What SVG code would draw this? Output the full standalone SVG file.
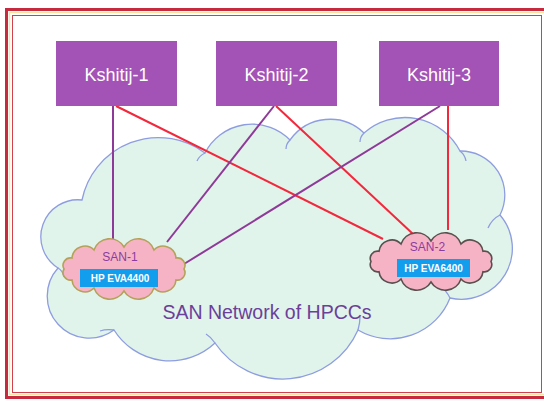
<svg xmlns="http://www.w3.org/2000/svg" width="544" height="402" viewBox="0 0 544 402">
<style>
.box{fill:#a352b5;}
.ktxt{font-family:"Liberation Sans",Arial,sans-serif;font-size:18px;fill:#ffffff;text-anchor:middle;}
.pl{stroke:#8e3a98;stroke-width:2;fill:none;}
.rl{stroke:#f2283c;stroke-width:2;fill:none;}
.san{fill:#f7b3c6;stroke-width:1.6;}
.santxt{font-family:"Liberation Sans",Arial,sans-serif;font-size:12px;fill:#8a3d9e;text-anchor:middle;}
.hp{fill:#139ded;}
.hptxt{font-family:"Liberation Sans",Arial,sans-serif;font-size:10px;font-weight:bold;fill:#ffffff;text-anchor:middle;}
.cl{fill:none;stroke:#8e9de0;stroke-width:1.3;}
</style>
<rect x="0" y="0" width="544" height="402" fill="#ffffff"/>
<g id="frame">
<rect x="6.5" y="9.5" width="560" height="388" fill="none" stroke="#c62a3e" stroke-width="3"/>
<rect x="9.5" y="12.5" width="560" height="382" fill="none" stroke="#f3e6a6" stroke-width="1.5"/>
<rect x="12.5" y="15.5" width="529" height="377" fill="none" stroke="#d0404e" stroke-width="1"/>
</g>
<g id="network-cloud">
<path d="M58 268 A37 37 0 0 1 82 200 A78 78 0 0 1 205 153 A53 53 0 0 1 290 140 A49 49 0 0 1 364 133 A62 62 0 0 1 460 151 A44 44 0 0 1 500 215 A51 51 0 0 1 450 298 A64 64 0 0 1 358 330 A82 82 0 0 1 215 343 A66 66 0 0 1 114 330 A42 42 0 0 1 58 268 Z" fill="#e1f4eb" stroke="#8e9de0" stroke-width="1.3"/>
<path class="cl" d="M58 268 Q63 271 64 277 M205 153 Q199 156 197 161 M290 140 Q286 144 286 149 M364 133 Q360 137 360 142 M460 151 Q465 155 466 161 M500 215 Q492 219 488 228 M450 298 Q446 290 440 286 M358 330 Q360 323 360 317 M215 343 Q211 337 206 334 M114 330 Q106 329 100 331"/>
<text x="267" y="319" font-family="Liberation Sans, Arial, sans-serif" font-size="19.5" fill="#6b3f9a" text-anchor="middle">SAN Network of HPCCs</text>
</g>
<g id="connectors">
<line class="pl" x1="113" y1="106" x2="113" y2="242"/>
<line class="rl" x1="116" y1="106" x2="383" y2="239"/>
<line class="pl" x1="274" y1="106" x2="167" y2="242"/>
<line class="rl" x1="276" y1="106" x2="413" y2="234"/>
<line class="pl" x1="440" y1="106" x2="184" y2="264"/>
<line class="rl" x1="448" y1="106" x2="448" y2="230"/>
</g>
<g id="san1">
<path class="san" stroke="#b5a25a" d="M64 269 A7.5 7.5 0 0 1 72 258 A12.9 12.9 0 0 1 94 250 A16.6 16.6 0 0 1 124 247 A16.6 16.6 0 0 1 154 250 A12.9 12.9 0 0 1 176 258 A7.5 7.5 0 0 1 184 269 A7.5 7.5 0 0 1 176 280 A12.9 12.9 0 0 1 154 288 A16.6 16.6 0 0 1 124 291 A16.6 16.6 0 0 1 94 288 A12.9 12.9 0 0 1 72 280 A7.5 7.5 0 0 1 64 269 Z"/>
<text class="santxt" x="120" y="261">SAN-1</text>
<rect class="hp" x="80" y="269" width="78" height="18"/>
<text class="hptxt" x="120" y="281.5">HP EVA4400</text>
</g>
<g id="san2">
<path class="san" stroke="#5a5050" d="M371 261.5 A7.2 7.2 0 0 1 379 251.3 A12.8 12.8 0 0 1 401 244 A16.6 16.6 0 0 1 431 241 A16.6 16.6 0 0 1 461 244 A12.8 12.8 0 0 1 483 251.3 A7.2 7.2 0 0 1 491 261.5 A7.2 7.2 0 0 1 483 271.7 A12.8 12.8 0 0 1 461 279 A16.6 16.6 0 0 1 431 282 A16.6 16.6 0 0 1 401 279 A12.8 12.8 0 0 1 379 271.7 A7.2 7.2 0 0 1 371 261.5 Z"/>
<text class="santxt" x="427.5" y="251">SAN-2</text>
<rect class="hp" x="397" y="259" width="73" height="18"/>
<text class="hptxt" x="433.5" y="271.5">HP EVA6400</text>
</g>
<g id="kshitij1">
<rect class="box" x="56" y="41" width="121" height="65"/>
<text class="ktxt" x="116.5" y="80.5">Kshitij-1</text>
</g>
<g id="kshitij2">
<rect class="box" x="216" y="41" width="121" height="65"/>
<text class="ktxt" x="276.5" y="80.5">Kshitij-2</text>
</g>
<g id="kshitij3">
<rect class="box" x="379" y="41" width="120" height="65"/>
<text class="ktxt" x="439" y="80.5">Kshitij-3</text>
</g>
</svg>
